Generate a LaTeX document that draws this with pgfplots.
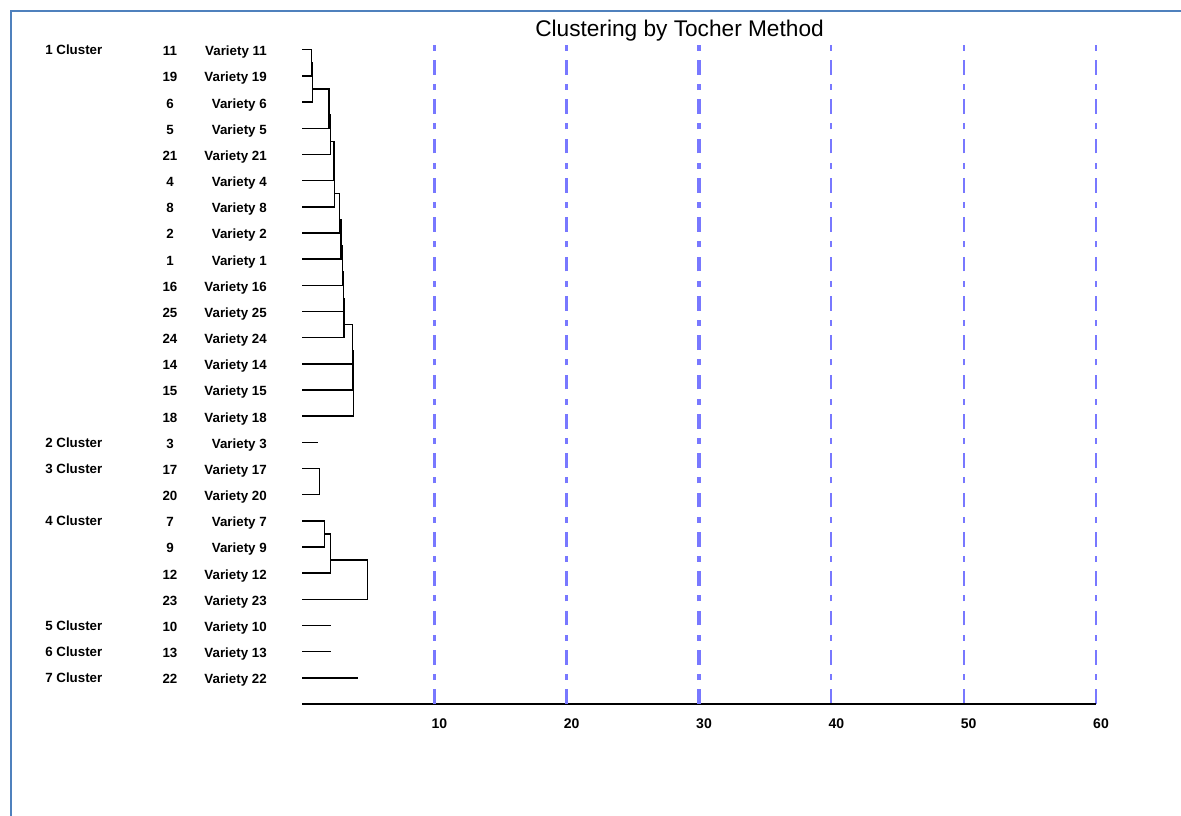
\documentclass[border=0pt]{standalone}
\usepackage{fontspec}
\setmainfont{Liberation Sans}
\usepackage{pgfplots}
\usepackage{pgfplotstable}
\pgfplotsset{compat=1.18}
\definecolor{gridblue}{RGB}{120,120,255}
\definecolor{frameblue}{RGB}{79,129,189}
% dendrogram segments: x = distance, y = 26 - row position
\pgfplotstableread{
x y
0 25
0.73 25
0.73 24
0 24
nan nan
0 23
0.81 23
0.81 24.5
0.73 24.5
nan nan
0 22
2.04 22
2.04 23.5
0.81 23.5
nan nan
0 21
2.17 21
2.17 22.5
2.04 22.5
nan nan
0 20
2.42 20
2.42 21.5
2.17 21.5
nan nan
0 19
2.46 19
2.46 20.5
2.42 20.5
nan nan
0 18
2.82 18
2.82 19.5
2.46 19.5
nan nan
0 17
2.95 17
2.95 18.5
2.82 18.5
nan nan
0 16
3.05 16
3.05 17.5
2.95 17.5
nan nan
0 15
3.12 15
3.12 16.5
3.05 16.5
nan nan
0 14
3.17 14
3.17 15.5
3.12 15.5
nan nan
0 13
3.80 13
3.80 14.5
3.17 14.5
nan nan
0 12
3.85 12
3.85 13.5
3.80 13.5
nan nan
0 11
3.91 11
3.91 12.5
3.85 12.5
nan nan
0 10
1.18 10
nan nan
0 9
1.31 9
1.31 8
0 8
nan nan
0 7
1.69 7
1.69 6
0 6
nan nan
0 5
2.17 5
2.17 6.5
1.69 6.5
nan nan
0 4
4.96 4
4.96 5.5
2.17 5.5
nan nan
0 3
2.19 3
nan nan
0 2
2.19 2
nan nan
0 1
4.26 1
}\dendro
\begin{document}
\begin{tikzpicture}[x=0.75pt,y=0.75pt]
\path[use as bounding box] (0,0) rectangle (1181,816);
\draw[frameblue, line width=1.6pt] (10.8,0) -- (10.8,805.2) -- (1181,805.2);
\begin{axis}[
  at={(226.5pt,84pt)}, anchor=south west,
  scale only axis, width=595.5pt, height=494.6pt,
  xmin=0, xmax=60, ymin=0, ymax=25.2,
  clip=false,
  axis x line*=bottom, axis y line=none,
  x axis line style={black, line width=1.1pt},
  xtick={40,50,60},
  extra x ticks={10,20,30},
  extra x tick style={major grid style={gridblue, line width=2.3pt, dash pattern=on 11pt off 7pt on 4.5pt off 7pt}},
  ytick=\empty,
  major tick length=0pt,
  xmajorgrids=true,
  major grid style={gridblue, line width=1.6pt, dash pattern=on 11pt off 7pt on 4.5pt off 7pt},
  /pgf/number format/assume math mode=true,
  xticklabel style={font=\bfseries\fontsize{10.5}{12}\selectfont, anchor=base, xshift=3.75pt, yshift=-18.4pt},
  unbounded coords=jump,
]
\addplot[black, line width=1.1pt] table[x=x,y=y] {\dendro};
\end{axis}
\node[anchor=base, font=\fontsize{17}{20}\selectfont] at (679.5,779.3) {Clustering by Tocher Method};
\foreach \n [count=\r] in {11,19,6,5,21,4,8,2,1,16,25,24,14,15,18,3,17,20,7,9,12,23,10,13,22} {
  \node[anchor=base, inner sep=0pt, font=\bfseries\fontsize{10}{12}\selectfont] at (170,{786.4-26.17*\r}) {\n};
  \node[anchor=base east, inner sep=0pt, font=\bfseries\fontsize{10}{12}\selectfont] at (267,{786.4-26.17*\r}) {Variety \n};
}
\foreach \r/\c in {1/1,16/2,17/3,19/4,23/5,24/6,25/7} {
  \node[anchor=base west, inner sep=0pt, font=\bfseries\fontsize{10}{12}\selectfont] at (45,{787.4-26.17*\r}) {\c\ Cluster};
}
\end{tikzpicture}
\end{document}
